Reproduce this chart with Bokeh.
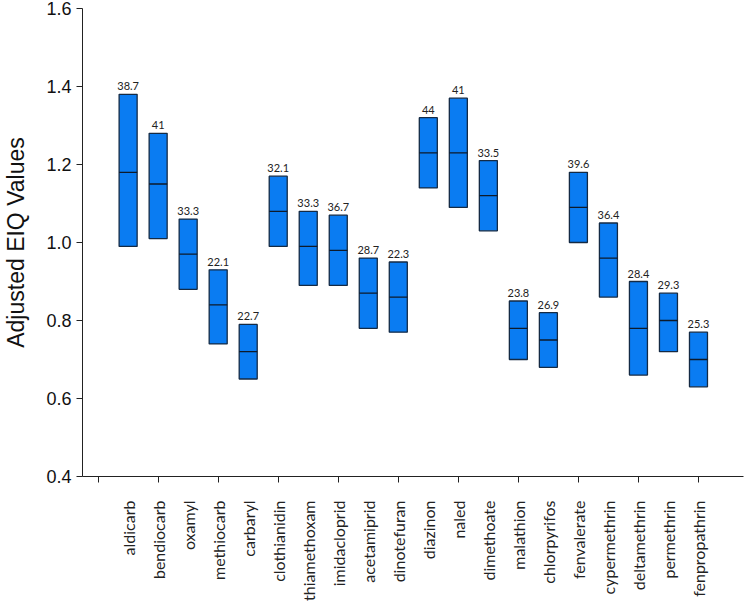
import math
import numpy as np
from bokeh.plotting import figure
from bokeh.models import ColumnDataSource, FixedTicker
from bokeh.core.properties import value
from bokeh.embed import file_html
from bokeh.resources import INLINE

names = ["aldicarb", "bendiocarb", "oxamyl", "methiocarb", "carbaryl",
         "clothianidin", "thiamethoxam", "imidacloprid", "acetamiprid", "dinotefuran",
         "diazinon", "naled", "dimethoate", "malathion", "chlorpyrifos",
         "fenvalerate", "cypermethrin", "deltamethrin", "permethrin", "fenpropathrin"]
upper = [1.38, 1.28, 1.06, 0.93, 0.79, 1.17, 1.08, 1.07, 0.96, 0.95,
         1.32, 1.37, 1.21, 0.85, 0.82, 1.18, 1.05, 0.90, 0.87, 0.77]
lower = [0.99, 1.01, 0.88, 0.74, 0.65, 0.99, 0.89, 0.89, 0.78, 0.77,
         1.14, 1.09, 1.03, 0.70, 0.68, 1.00, 0.86, 0.66, 0.72, 0.63]
median = [1.18, 1.15, 0.97, 0.84, 0.72, 1.08, 0.99, 0.98, 0.87, 0.86,
          1.23, 1.23, 1.12, 0.78, 0.75, 1.09, 0.96, 0.78, 0.80, 0.70]
eiq = ["38.7", "41", "33.3", "22.1", "22.7", "32.1", "33.3", "36.7", "28.7", "22.3",
       "44", "41", "33.5", "23.8", "26.9", "39.6", "36.4", "28.4", "29.3", "25.3"]
y_ticks = [0.4, 0.6, 0.8, 1.0, 1.2, 1.4, 1.6]

pos = list(range(1, len(names) + 1))
bar_w = 0.6

src = ColumnDataSource(dict(
    x=pos, top=upper, bottom=lower, med=median, lab=eiq,
    x0=[p_ - bar_w / 2 for p_ in pos], x1=[p_ + bar_w / 2 for p_ in pos],
))

p = figure(width=744, height=603, output_backend="svg", toolbar_location=None,
           x_range=(-0.52, 21.5), y_range=(0.4, 1.6),
           min_border_left=71, min_border_right=1, min_border_top=8, min_border_bottom=10)
p.outline_line_color = None
p.grid.visible = False
p.background_fill_color = "white"

p.vbar(x="x", top="top", bottom="bottom", width=bar_w, source=src,
       fill_color="#0a7cf2", line_color="#142a44", line_width=1.3)
p.segment(x0="x0", x1="x1", y0="med", y1="med", source=src,
          line_color="#0e1a2a", line_width=1.3)
p.text(x="x", y="top", text="lab", source=src, y_offset=-4,
       text_align="center", text_baseline="bottom",
       text_font=value("Lato"), text_font_size="11px", text_color="#222222")

# x axis
p.xaxis.ticker = FixedTicker(ticks=pos, minor_ticks=list(range(0, 21, 2)))
p.xaxis.major_label_overrides = {i: n for i, n in zip(pos, names)}
p.xaxis.major_label_orientation = math.pi / 2
p.xaxis.major_tick_line_color = None
p.xaxis.major_tick_out = 6
p.xaxis.major_tick_in = 0
p.xaxis.minor_tick_out = 6
p.xaxis.minor_tick_in = 0
p.xaxis.minor_tick_line_color = "#222222"
p.xaxis.major_label_text_font = "Lato"
p.xaxis.major_label_text_font_size = "16px"
p.xaxis.major_label_text_color = "#222222"
p.xaxis.major_label_standoff = 18
p.xaxis.axis_line_color = "#222222"

# y axis
p.yaxis.ticker = FixedTicker(ticks=y_ticks, minor_ticks=[])
p.yaxis.major_label_overrides = {t: f"{t:.1f}" for t in y_ticks}
p.yaxis.axis_label = "Adjusted EIQ Values"
p.yaxis.axis_label_text_font = "Liberation Sans"
p.yaxis.axis_label_text_font_style = "normal"
p.yaxis.axis_label_text_font_size = "23px"
p.yaxis.axis_label_text_color = "#111111"
p.yaxis.axis_label_standoff = 14
p.yaxis.major_label_text_font = "Liberation Sans"
p.yaxis.major_label_text_font_size = "18px"
p.yaxis.major_label_text_color = "#111111"
p.yaxis.major_tick_out = 6
p.yaxis.major_tick_in = 0
p.yaxis.major_tick_line_color = "#222222"
p.yaxis.axis_line_color = "#222222"

open("out.html", "w").write(file_html(p, INLINE))
